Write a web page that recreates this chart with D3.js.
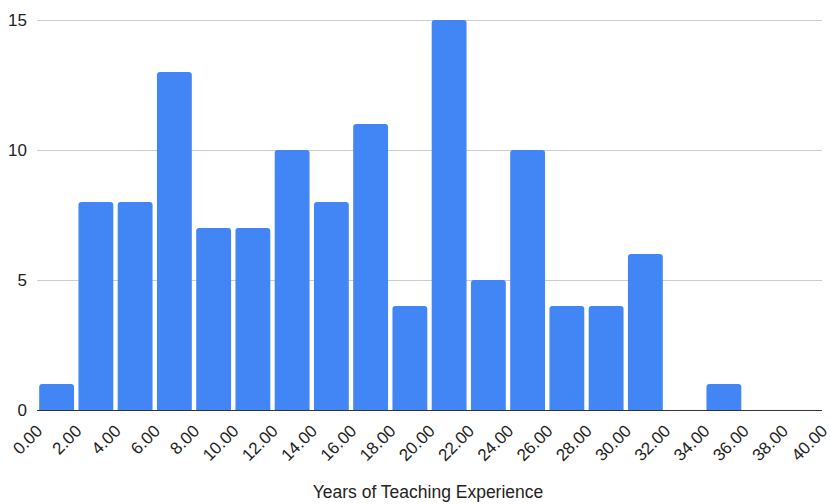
<!DOCTYPE html>
<html>
<head>
<meta charset="utf-8">
<script src="https://cdn.jsdelivr.net/npm/d3@7"></script>
<style>
  html, body { margin: 0; padding: 0; background: #fff; }
  svg { display: block; font-family: Arial, "Liberation Sans", sans-serif; }
</style>
</head>
<body>
<svg id="chart" width="830" height="504"></svg>
<script>
// Histogram of years of teaching experience, 2-year bins
const binEdges = [0, 2, 4, 6, 8, 10, 12, 14, 16, 18, 20, 22, 24, 26, 28, 30, 32, 34, 36, 38, 40];
const counts   = [1, 8, 8, 13, 7, 7, 10, 8, 11, 4, 15, 5, 10, 4, 4, 6, 0, 1, 0, 0];
const yTicks   = [0, 5, 10, 15];
const xTitle   = "Years of Teaching Experience";

const svg = d3.select("#chart");
const plotLeft = 37, plotRight = 822, plotTop = 20, plotBottom = 410;

const x = d3.scaleLinear().domain([0, 40]).range([plotLeft, plotRight]);
const y = d3.scaleLinear().domain([0, 15]).range([plotBottom, plotTop]);

// Gridlines
svg.append("g").selectAll("line")
  .data(yTicks.filter(d => d > 0))
  .join("line")
  .attr("x1", plotLeft).attr("x2", plotRight)
  .attr("y1", d => y(d) + 0.5).attr("y2", d => y(d) + 0.5)
  .attr("stroke", "#cccccc").attr("stroke-width", 1);

// Y tick labels
svg.append("g").selectAll("text")
  .data(yTicks)
  .join("text")
  .attr("x", 27)
  .attr("y", d => y(d))
  .attr("dy", "0.36em")
  .attr("text-anchor", "end")
  .attr("font-size", 17)
  .attr("fill", "#222")
  .text(d => d);

// Bars with rounded tops
const bins = counts.map((c, i) => ({ x0: binEdges[i], x1: binEdges[i + 1], c }));
const inset = 2.2, r = 3;
svg.append("g").selectAll("path")
  .data(bins.filter(d => d.c > 0))
  .join("path")
  .attr("fill", "#4285f4")
  .attr("d", d => {
    const x0 = x(d.x0) + inset, x1 = x(d.x1) - inset;
    const y0 = y(d.c), yb = y(0);
    return `M${x0},${yb} V${y0 + r} Q${x0},${y0} ${x0 + r},${y0} H${x1 - r} Q${x1},${y0} ${x1},${y0 + r} V${yb} Z`;
  });

// Baseline
svg.append("line")
  .attr("x1", plotLeft).attr("x2", plotRight)
  .attr("y1", plotBottom + 0.5).attr("y2", plotBottom + 0.5)
  .attr("stroke", "#333").attr("stroke-width", 1);

// X tick labels, rotated
svg.append("g").selectAll("text")
  .data(binEdges)
  .join("text")
  .attr("transform", d => `translate(${x(d) + 6.5},${plotBottom + 22}) rotate(-45)`)
  .attr("text-anchor", "end")
  .attr("font-size", 17)
  .attr("fill", "#222")
  .text(d => d.toFixed(2));

// Axis title
svg.append("text")
  .attr("x", 428)
  .attr("y", 498)
  .attr("text-anchor", "middle")
  .attr("font-size", 17.5)
  .attr("fill", "#222")
  .text(xTitle);
</script>
</body>
</html>
